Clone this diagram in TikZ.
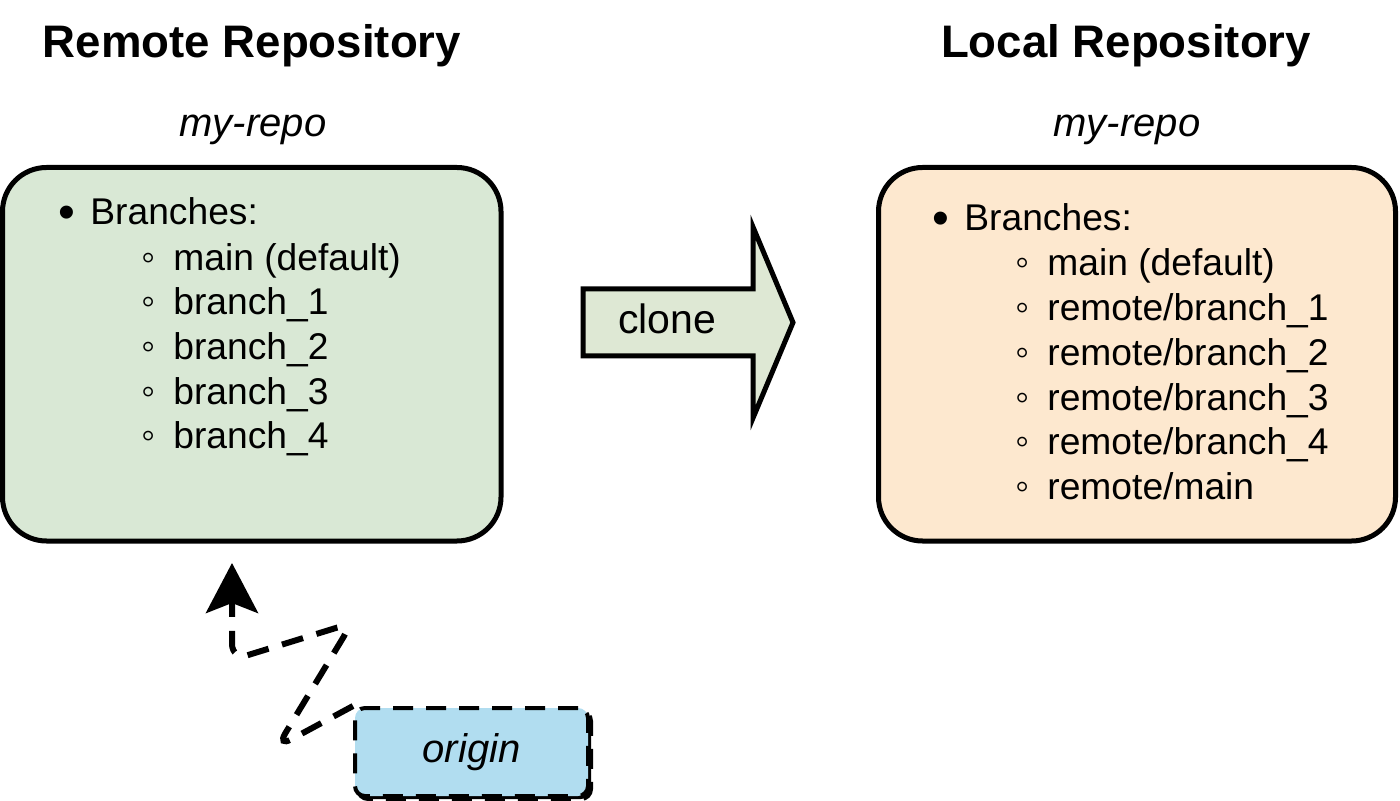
\documentclass[tikz,border=0pt]{standalone}
\usepackage{fontspec}
\setmainfont{Liberation Sans}
\usetikzlibrary{shapes.misc, shapes, arrows.meta, shadows}
\usetikzlibrary{matrix}
\usetikzlibrary{positioning}
\definecolor{remotefill}{RGB}{217,232,213}
\definecolor{localfill}{RGB}{253,232,207}
\definecolor{originfill}{RGB}{177,221,240}
\definecolor{clonefill}{RGB}{222,232,212}
\newcommand{\topdot}{\raisebox{-2pt}{\fontsize{24}{24}\selectfont\textbullet}}

\begin{document}
\begin{tikzpicture}[x=0.5pt,y=-0.5pt,
repo/.style={rectangle,draw=black,line width=2.5pt,rounded corners=22pt,minimum width=249.25pt,minimum height=186.75pt},
title/.style={font=\fontsize{22.8}{26}\selectfont\bfseries,anchor=base,inner sep=0pt},
reponame/.style={font=\fontsize{20}{24}\selectfont\itshape,anchor=base,inner sep=0pt},
item/.style={font=\fontsize{18.6}{22}\selectfont,anchor=base west,inner sep=0pt},
marker/.style={font=\fontsize{18.6}{22}\selectfont,inner sep=0pt},
branchlist/.style={matrix of nodes,inner sep=0pt,row sep=0pt,column sep=7.5pt,
  nodes={inner sep=0pt,text height=16pt,text depth=6.35pt,font=\fontsize{18.6}{22}\selectfont},
  column 1/.style={nodes={minimum width=10pt,anchor=base,font=\fontsize{20}{20}\selectfont}},
  column 2/.style={nodes={anchor=base west}}},
link/.style={draw=black,line width=3pt,dash pattern=on 11pt off 7pt,rounded corners=8pt},
originbox/.style={rectangle,draw=black,line width=2pt,dash pattern=on 10pt off 6.5pt,rounded corners=5pt,fill=originfill,
  minimum width=116.5pt,minimum height=44pt,font=\fontsize{20}{24}\selectfont\itshape,
  general shadow={draw=black,line width=2pt,dash pattern=on 10pt off 6.5pt,fill=black,shadow xshift=1.5pt,shadow yshift=-1.5pt}},
bigarrow/.style={draw=black,line width=2.5pt,fill=clonefill,line join=miter}]

\useasboundingbox (0,0) rectangle (1400,801);

% remote side
\node[title] (remotetitle) at (252,58) {Remote Repository};
\node[reponame] (remotename) at (253,137) {my-repo};
\node[repo,fill=remotefill] (remote) at (251.75,354.25) {};
\node[item] (remotehead) at (90,225) {Branches:};
\node[marker,base left=7pt of remotehead] (remotedot) {\topdot};
\matrix (remotelist) [branchlist, matrix anchor=remotelist-1-2.base west] at (173,270)
{
◦ & main (default)\\
◦ & branch\_1\\
◦ & branch\_2\\
◦ & branch\_3\\
◦ & branch\_4\\
};

% local side
\node[title] (localtitle) at (1126,58) {Local Repository};
\node[reponame] (localname) at (1127,137) {my-repo};
\node[repo,fill=localfill,minimum width=258.5pt] (local) at (1137,354.25) {};
\node[item] (localhead) at (964,231) {Branches:};
\node[marker,base left=7pt of localhead] (localdot) {\topdot};
\matrix (locallist) [branchlist, matrix anchor=locallist-1-2.base west] at (1047,276)
{
◦ & main (default)\\
◦ & remote/branch\_1\\
◦ & remote/branch\_2\\
◦ & remote/branch\_3\\
◦ & remote/branch\_4\\
◦ & remote/main\\
};

% clone arrow
\draw[bigarrow] (583,289) -- (753,289) -- (753,227) -- (793,322.5) -- (753,418) -- (753,356) -- (583,356) -- cycle;
\node[reponame,font=\fontsize{20.5}{24}\selectfont] (clone) at (667,334) {clone};

% origin
\node[originbox] (origin) at (471.5,752) {origin};
\coordinate (remotetip) at (232,563);
\draw[link,-{Stealth[length=25pt,width=26pt,inset=5pt]}] (origin.north west) -- (277,747) -- (352,623) -- (232,660) -- (remotetip);

\end{tikzpicture}
\end{document}
